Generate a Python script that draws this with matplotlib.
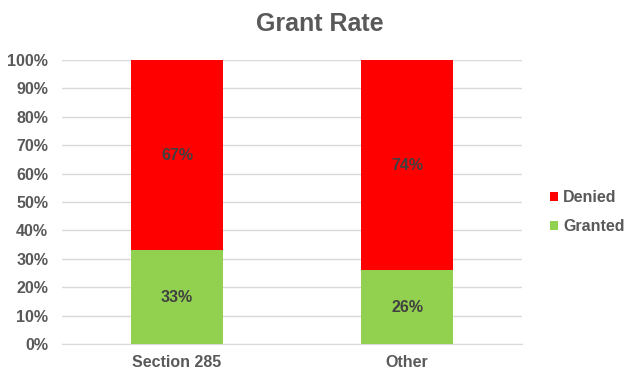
import matplotlib.pyplot as plt
from matplotlib.ticker import FuncFormatter, MultipleLocator

categories = ["Section 285", "Other"]
granted = [33, 26]
denied = [67, 74]

plt.rcParams['font.family'] = ['Liberation Sans', 'DejaVu Sans']
plt.rcParams['font.weight'] = 'bold'

fig = plt.figure(figsize=(6.4, 3.8), dpi=100)
ax = fig.add_axes([62/640, 1-344/380, 460/640, 284/380])

x = range(len(categories))
b1 = ax.bar(x, granted, width=0.4, color='#92D050', label='Granted', zorder=3)
b2 = ax.bar(x, denied, width=0.4, bottom=granted, color='#FF0000', label='Denied', zorder=3)

for bars, vals, base in [(b1, granted, [0, 0]), (b2, denied, granted)]:
    for rect, v, b in zip(bars, vals, base):
        ax.text(rect.get_x() + rect.get_width()/2, b + v/2, f"{v}%",
                ha='center', va='center', fontsize=11.5, fontweight='bold', color='#404040', zorder=4)

ax.set_xlim(-0.5, 1.5)
ax.set_ylim(0, 100)
ax.yaxis.set_major_locator(MultipleLocator(10))
ax.yaxis.set_major_formatter(FuncFormatter(lambda v, p: f"{v:.0f}%"))
ax.set_xticks(list(x))
ax.set_xticklabels(categories)
ax.tick_params(axis='both', length=0, labelsize=11.5, labelcolor='#595959')
ax.tick_params(axis='y', pad=10)
ax.tick_params(axis='x', pad=8)
ax.grid(axis='y', color='#d9d9d9', linewidth=1, zorder=0)
for s in ['top', 'right', 'left']:
    ax.spines[s].set_visible(False)
ax.spines['bottom'].set_color('#d9d9d9')

fig.text(0.5, 1-24/380, "Grant Rate", ha='center', va='center',
         fontsize=18, fontweight='bold', color='#595959')

handles, labels = ax.get_legend_handles_labels()
fig.legend(handles[::-1], labels[::-1], loc='center left', bbox_to_anchor=(536/640, 1-212/380),
           frameon=False, fontsize=11.5, labelcolor='#595959', handlelength=0.5, handleheight=0.5,
           handletextpad=0.3, labelspacing=0.9)

fig.savefig('out.png', dpi=100)
